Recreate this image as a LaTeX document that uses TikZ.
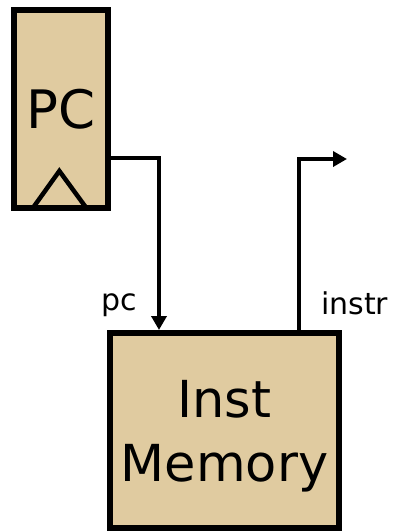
\documentclass[tikz,border=0pt]{standalone}
\usepackage{fontspec}
\setmainfont{DejaVu Sans}
\usetikzlibrary{arrows.meta,calc}
\definecolor{unitfill}{RGB}{224,203,160}
\tikzset{
  unit/.style={draw=black,line width=6pt,fill=unitfill,inner sep=0pt},
  wire/.style={line width=3.5pt,line join=miter},
  sig/.style={font=\fontsize{30}{32}\selectfont,inner sep=0pt}
}

\begin{document}
\begin{tikzpicture}[x=1pt,y=-1pt]
\useasboundingbox (0,0) rectangle (394,531);
% state register and memory
\node[unit,minimum width=93.7pt,minimum height=197.7pt,font=\fontsize{53}{60}\selectfont] (pc) at (60.85,108.85) {PC};
\node[unit,minimum width=229pt,minimum height=195pt] (mem) at (224.5,430.5) {};
\node[align=center,inner sep=0pt,font=\fontsize{51}{64}\selectfont] (memtxt) at ($(mem.center)+(0,6)$) {Inst\\Memory};
% clock mark
\draw[line width=4.5pt,line join=miter] ($(pc.south)+(-28,-2.7)$) -- ++(26.5,-37) -- ++(27,37);
% wires
\coordinate (out) at (347,159);
\draw[wire,-{Triangle[length=14pt,width=15pt]}] ($(pc.east)+(0,49.15)$) -| ($(mem.north west)+(52,0)$);
\draw[wire,-{Triangle[length=14pt,width=15pt]}] ($(mem.north west)+(192,0)$) |- (out);
\node[sig,anchor=base] (pclbl) at (119,310) {pc};
\node[sig,anchor=base west] (instrlbl) at (321,314) {instr};
\end{tikzpicture}
\end{document}
